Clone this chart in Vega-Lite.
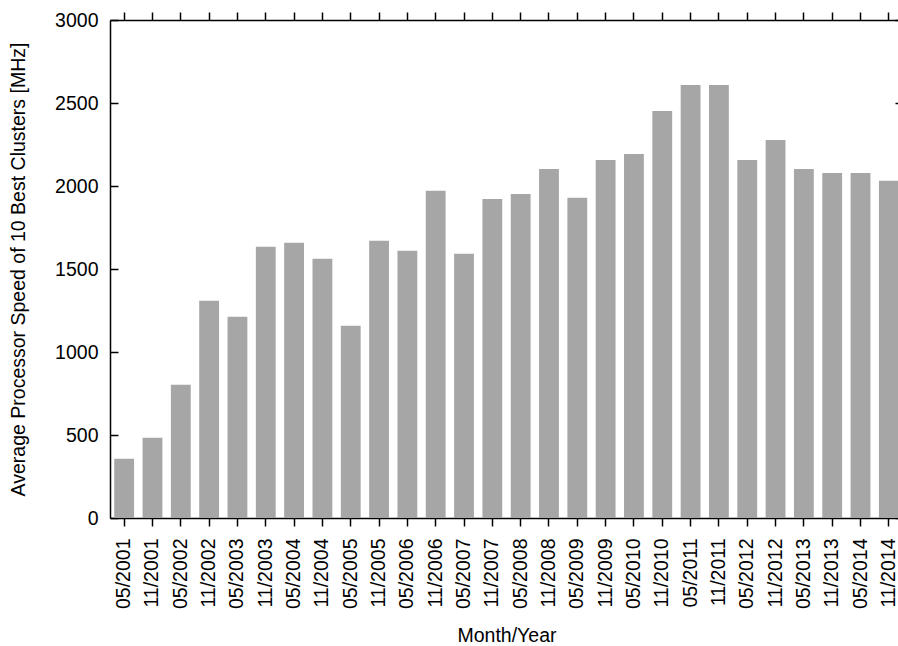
{
  "$schema": "https://vega.github.io/schema/vega-lite/v6.json",
  "autosize": {"type": "none"},
  "padding": {"left": 110, "top": 20, "right": 10, "bottom": 128},
  "width": 793,
  "height": 498,
  "config": {
    "view": {"stroke": null},
    "font": "Liberation Sans",
    "axis": {
      "grid": false,
      "domainColor": "#000000",
      "domainWidth": 1.5,
      "tickColor": "#000000",
      "tickWidth": 1.5,
      "labelColor": "#000000",
      "titleColor": "#000000",
      "labelFont": "Liberation Sans",
      "titleFont": "Liberation Sans",
      "labelFontSize": 19.5,
      "titleFontSize": 19.5,
      "titleFontWeight": "normal"
    }
  },
  "data": {
    "values": [
      {"date": "05/2001", "speed": 357},
      {"date": "11/2001", "speed": 483},
      {"date": "05/2002", "speed": 802},
      {"date": "11/2002", "speed": 1308},
      {"date": "05/2003", "speed": 1212},
      {"date": "11/2003", "speed": 1634},
      {"date": "05/2004", "speed": 1658},
      {"date": "11/2004", "speed": 1562},
      {"date": "05/2005", "speed": 1158},
      {"date": "11/2005", "speed": 1670},
      {"date": "05/2006", "speed": 1610},
      {"date": "11/2006", "speed": 1972},
      {"date": "05/2007", "speed": 1592},
      {"date": "11/2007", "speed": 1922},
      {"date": "05/2008", "speed": 1952},
      {"date": "11/2008", "speed": 2103},
      {"date": "05/2009", "speed": 1929},
      {"date": "11/2009", "speed": 2157},
      {"date": "05/2010", "speed": 2193},
      {"date": "11/2010", "speed": 2452},
      {"date": "05/2011", "speed": 2608},
      {"date": "11/2011", "speed": 2608},
      {"date": "05/2012", "speed": 2157},
      {"date": "11/2012", "speed": 2277},
      {"date": "05/2013", "speed": 2103},
      {"date": "11/2013", "speed": 2079},
      {"date": "05/2014", "speed": 2079},
      {"date": "11/2014", "speed": 2031}
    ]
  },
  "resolve": {"scale": {"x": "independent", "y": "independent"}, "axis": {"x": "independent", "y": "independent"}},
  "layer": [
    {
      "mark": {"type": "bar", "color": "#a6a6a6"},
      "encoding": {
        "x": {
          "field": "date", "type": "ordinal", "sort": null,
          "scale": {"paddingInner": 0.3, "paddingOuter": 0.15},
          "axis": {"title": "Month/Year", "labelAngle": -90, "tickSize": 8, "labelPadding": 12, "titlePadding": 18}
        },
        "y": {
          "field": "speed", "type": "quantitative",
          "scale": {"domain": [0, 3000], "nice": false},
          "axis": {"title": "Average Processor Speed of 10 Best Clusters [MHz]", "format": "d", "values": [0, 500, 1000, 1500, 2000, 2500, 3000], "tickSize": -8, "labelPadding": 20, "titlePadding": 26}
        }
      }
    },
    {
      "mark": {"type": "bar", "opacity": 0},
      "encoding": {
        "x": {
          "field": "date", "type": "ordinal", "sort": null,
          "scale": {"paddingInner": 0.3, "paddingOuter": 0.15},
          "axis": {"orient": "top", "title": null, "labels": false, "tickSize": 8}
        },
        "y": {
          "field": "speed", "type": "quantitative",
          "scale": {"domain": [0, 3000], "nice": false},
          "axis": {"orient": "right", "title": null, "labels": false, "values": [0, 500, 1000, 1500, 2000, 2500, 3000], "tickSize": -8}
        }
      }
    }
  ]
}
